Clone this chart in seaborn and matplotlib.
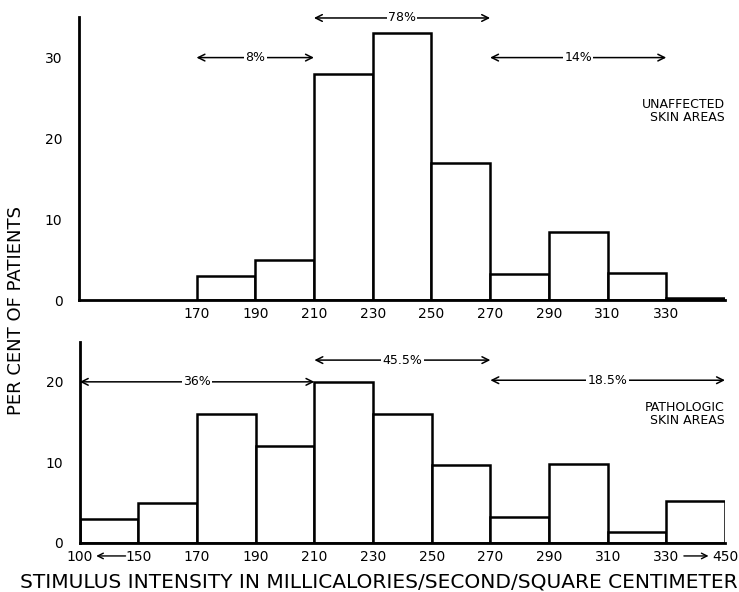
import numpy as np
import pandas as pd
import seaborn as sns
import matplotlib.pyplot as plt

# dados
edges_bottom = [100, 150, 170, 190, 210, 230, 250, 270, 290, 310, 330, 450]
edges_top = [130, 150, 170, 190, 210, 230, 250, 270, 290, 310, 330, 350]

bins_bottom = [f"{a}-{b}" for a, b in zip(edges_bottom[:-1], edges_bottom[1:])]
bins_top = [f"{a}-{b}" for a, b in zip(edges_top[:-1], edges_top[1:])]

top_bins = bins_top[2:]
top_pct = [3, 5, 28, 33, 17, 3.2, 8.4, 3.3, 0.3]
bottom_pct = [3, 5, 16, 12, 20, 16, 9.7, 3.2, 9.8, 1.4, 5.2]

top_ticks = [170, 190, 210, 230, 250, 270, 290, 310, 330]
bottom_ticks = [100, 150, 170, 190, 210, 230, 250, 270, 290, 310, 330, 450]

# faixas com porcentagem: (início, fim, altura, rótulo)
top_ranges = [(170, 210, 30, "8%"), (210, 270, 34.9, "78%"), (270, 330, 30, "14%")]
bottom_ranges = [(100, 210, 20, "36%"), (210, 270, 22.7, "45.5%"), (270, 450, 20.2, "18.5%")]

sns.set_style("white")
plt.rcParams['font.family'] = ['DejaVu Sans']
plt.rcParams['text.color'] = 'black'
plt.rcParams['xtick.color'] = 'black'
plt.rcParams['ytick.color'] = 'black'

fig = plt.figure(figsize=(7.39, 5.92), dpi=100)
ax1 = fig.add_axes([0.107, 0.493, 0.874, 0.478])
ax2 = fig.add_axes([0.108, 0.083, 0.873, 0.34])

df_top = pd.DataFrame({"bin": top_bins, "pct": top_pct})
df_bot = pd.DataFrame({"bin": bins_bottom, "pct": bottom_pct})

sns.barplot(data=df_top, x="bin", y="pct", order=bins_top, ax=ax1,
            color="white", edgecolor="black", linewidth=1.8, width=1.0)
sns.barplot(data=df_bot, x="bin", y="pct", order=bins_bottom, ax=ax2,
            color="white", edgecolor="black", linewidth=1.8, width=1.0)


def edge_pos(edges, v):
    return edges.index(v) - 0.5


def draw_range(ax, edges, a, b, y, label):
    x0, x1 = edge_pos(edges, a), edge_pos(edges, b)
    ax.annotate("", xy=(x0, y), xytext=(x1, y),
                arrowprops=dict(arrowstyle="<->", color="black", lw=1.1,
                                shrinkA=0, shrinkB=0, mutation_scale=12),
                annotation_clip=False)
    ax.text((x0 + x1) / 2, y, label, ha="center", va="center", fontsize=9,
            bbox=dict(facecolor="white", edgecolor="none", pad=1.0), clip_on=False)


for ax, edges, ymax, yt in [(ax1, edges_top, 35, [0, 10, 20, 30]),
                            (ax2, edges_bottom, 25, [0, 10, 20])]:
    ax.set_xlim(-0.5, 10.5)
    ax.set_ylim(0, ymax)
    ax.set_yticks(yt)
    ax.set_xlabel("")
    ax.set_ylabel("")
    for s in ["top", "right"]:
        ax.spines[s].set_visible(False)
    for s in ["left", "bottom"]:
        ax.spines[s].set_linewidth(2)
        ax.spines[s].set_color("black")
    ax.tick_params(axis="y", direction="in", length=4, width=1.2, labelsize=10, pad=12)
    ax.tick_params(axis="x", length=0, labelsize=10, pad=5)

ax1.set_xticks([edge_pos(edges_top, v) for v in top_ticks])
ax1.set_xticklabels([str(v) for v in top_ticks])
ax2.set_xticks([edge_pos(edges_bottom, v) for v in bottom_ticks])
ax2.set_xticklabels([str(v) for v in bottom_ticks])

for a, b, y, lab in top_ranges:
    draw_range(ax1, edges_top, a, b, y, lab)
for a, b, y, lab in bottom_ranges:
    draw_range(ax2, edges_bottom, a, b, y, lab)

# setas entre os rótulos do eixo x de baixo
tr = ax2.get_xaxis_transform()
ax2.annotate("", xy=(-0.22, -0.065), xytext=(0.28, -0.065), xycoords=tr, textcoords=tr,
             arrowprops=dict(arrowstyle="->", color="black", lw=1.0, shrinkA=0, shrinkB=0),
             annotation_clip=False)
ax2.annotate("", xy=(10.22, -0.065), xytext=(9.8, -0.065), xycoords=tr, textcoords=tr,
             arrowprops=dict(arrowstyle="->", color="black", lw=1.0, shrinkA=0, shrinkB=0),
             annotation_clip=False)

ax1.text(10.5, 25, "UNAFFECTED\nSKIN AREAS", ha="right", va="top", fontsize=9,
         linespacing=1.0)
ax2.text(10.5, 17.6, "PATHOLOGIC\nSKIN AREAS", ha="right", va="top", fontsize=9,
         linespacing=1.0)

fig.text(0.513, 0.017, "STIMULUS INTENSITY IN MILLICALORIES/SECOND/SQUARE CENTIMETER",
         ha="center", va="center", fontsize=14.5)
fig.text(0.022, 0.475, "PER CENT OF PATIENTS", rotation=90, ha="center", va="center",
         fontsize=13)

fig.savefig("out.png", dpi=100)
